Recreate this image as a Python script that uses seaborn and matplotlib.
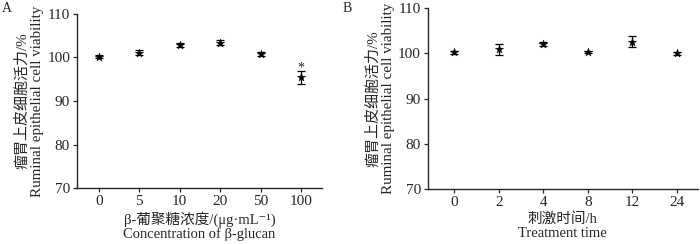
import numpy as np
import pandas as pd
import matplotlib
matplotlib.use("Agg")
import matplotlib.pyplot as plt
import seaborn as sns

# panel A: beta-glucan concentration
conc_labels = ["0", "5", "10", "20", "50", "100"]
conc_mean = [100.2, 101.1, 102.9, 103.4, 100.8, 95.4]
conc_sd = [0.3, 0.5, 0.5, 0.6, 0.4, 1.4]

# panel B: treatment time
time_labels = ["0", "2", "4", "8", "12", "24"]
time_mean = [100.2, 100.9, 102.0, 100.3, 102.6, 100.0]
time_sd = [0.3, 1.2, 0.4, 0.3, 1.3, 0.4]

sns.set_style("ticks")
plt.rcParams["font.family"] = ["Liberation Serif", "Noto Sans CJK SC", "DejaVu Sans"]

fig = plt.figure(figsize=(7, 2.44), dpi=100)
axA = fig.add_axes([0.11, 0.229, 0.35, 0.714])
axB = fig.add_axes([0.611, 0.225, 0.386, 0.742])


def draw(ax, labels, mean, sd, xlabel, xlim):
    df = pd.DataFrame({"x": labels, "y": mean})
    sns.scatterplot(data=df, x="x", y="y", ax=ax, marker="*", s=40,
                    color="black", edgecolor="black", linewidth=0.3, zorder=3)
    ax.errorbar(np.arange(len(labels)), mean, yerr=sd, fmt="none",
                ecolor="black", elinewidth=0.9, capsize=3, capthick=0.9)
    ax.set_ylim(70, 110)
    ax.set_yticks([70, 80, 90, 100, 110])
    ax.set_xlim(*xlim)
    ax.set_xlabel(xlabel, fontsize=10.5, labelpad=2, linespacing=1.1)
    ax.set_ylabel("瘤胃上皮细胞活力/%\nRuminal epithelial cell viability",
                  fontsize=10.8, labelpad=2, linespacing=1.2)
    ax.tick_params(axis="both", labelsize=11, length=3, width=0.9, pad=2)
    for s in ["left", "bottom"]:
        ax.spines[s].set_linewidth(1.0)
    sns.despine(ax=ax)


draw(axA, conc_labels, conc_mean, conc_sd,
     "β-葡聚糖浓度/(μg·mL⁻¹)\nConcentration of β-glucan", (-0.54, 5.52))
axA.text(5, 97.6, "*", ha="center", va="center", fontsize=10)

draw(axB, time_labels, time_mean, time_sd,
     "刺激时间/h\nTreatment time", (-0.6, 5.47))

fig.text(0.003, 0.99, "A", fontsize=10, va="top")
fig.text(0.49, 0.99, "B", fontsize=10, va="top")

fig.savefig("out.png", dpi=100)
